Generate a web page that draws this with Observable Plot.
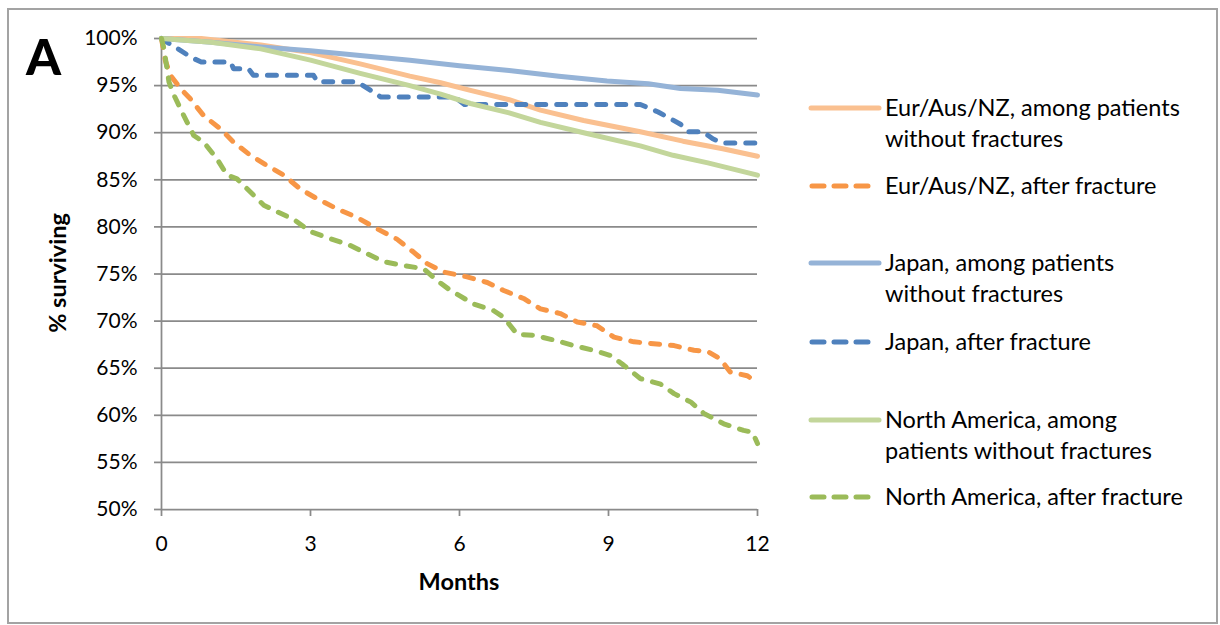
<!DOCTYPE html>
<html><head><meta charset="utf-8">
<script src="https://cdn.jsdelivr.net/npm/d3@7"></script>
<script src="https://cdn.jsdelivr.net/npm/@observablehq/plot@0.6"></script>
<style>
html,body{margin:0;padding:0;background:#fff;}
#wrap{position:relative;width:1220px;height:625px;overflow:hidden;font-family:Lato,sans-serif;}
#frame{position:absolute;left:7px;top:8px;width:1211px;height:616px;border:2px solid #a3a3a3;box-sizing:border-box;}
#chart{position:absolute;left:0;top:0;}
#overlay{position:absolute;left:0;top:0;}
</style></head><body>
<div id="wrap"><div id="frame"></div><div id="chart"></div><svg id="overlay" width="1220" height="625"></svg></div>
<script>
// ---- data (percent surviving by months) ----
const xTicks = [0, 3, 6, 9, 12];
const yTicks = [50, 55, 60, 65, 70, 75, 80, 85, 90, 95, 100];

const seriesNames = [
  "Eur/Aus/NZ, among patients without fractures",
  "Eur/Aus/NZ, after fracture",
  "Japan, among patients without fractures",
  "Japan, after fracture",
  "North America, among patients without fractures",
  "North America, after fracture"
];
const seriesColors = ["#FAC090", "#F79646", "#95B3D7", "#4F81BD", "#C3D69B", "#9BBB59"];
const seriesDashed = [false, true, false, true, false, true];
const legendLines = [
  ["Eur/Aus/NZ, among patients", "without fractures"],
  ["Eur/Aus/NZ, after fracture"],
  ["Japan, among patients", "without fractures"],
  ["Japan, after fracture"],
  ["North America, among", "patients without fractures"],
  ["North America, after fracture"]
];

const eurNoFxMonths = [0, 0.8, 2, 3, 4, 5, 5.62, 6.22, 7, 7.63, 8.5, 9.64, 10.5, 11.3, 12];
const eurNoFxPct    = [100, 100, 99.3, 98.5, 97.3, 96.0, 95.3, 94.5, 93.5, 92.4, 91.3, 90.1, 89.1, 88.3, 87.5];

const eurFxMonths = [0, 0.08, 0.18, 0.38, 0.58, 0.85, 1.19, 1.45, 1.79, 2.13, 2.46, 2.8, 3.13, 3.54, 3.94, 4.34, 4.74, 5.08, 5.35, 5.69, 6.15, 6.56, 6.89, 7.29, 7.63, 8.03, 8.37, 8.77, 9.11, 9.51, 10.32, 10.72, 10.99, 11.25, 11.45, 11.79, 12];
const eurFxPct    = [100, 97.6, 96.1, 94.7, 93.6, 91.8, 90.4, 89.0, 87.6, 86.5, 85.5, 84.0, 83.0, 81.9, 81.0, 79.8, 78.7, 77.3, 76.1, 75.2, 74.7, 74.1, 73.25, 72.4, 71.3, 70.8, 69.9, 69.5, 68.3, 67.8, 67.4, 66.9, 66.8, 66.0, 64.6, 64.2, 63.5];

const japanNoFxMonths = [0, 1, 2, 3, 4, 5, 6, 7, 8, 8.97, 9.8, 10.45, 11.2, 12];
const japanNoFxPct    = [100, 99.6, 99.1, 98.7, 98.2, 97.7, 97.1, 96.6, 96.0, 95.5, 95.2, 94.7, 94.5, 94.0];

const japanFxMonths = [0, 0.05, 0.3, 0.6, 0.8, 1.39, 1.45, 1.75, 1.85, 3.06, 3.14, 3.94, 4.3, 4.41, 5.9, 6.1, 9.64, 10.0, 10.45, 10.6, 10.9, 11.1, 11.3, 12];
const japanFxPct    = [100, 99.8, 99.0, 98.0, 97.5, 97.5, 96.8, 96.8, 96.1, 96.1, 95.4, 95.4, 94.2, 93.8, 93.8, 93.0, 93.0, 92.2, 90.9, 90.1, 90.1, 89.35, 88.9, 88.9];

const naNoFxMonths = [0, 1, 2, 3, 4, 5, 5.62, 6.22, 7, 7.63, 8.5, 9.64, 10.3, 11, 12];
const naNoFxPct    = [100, 99.6, 98.9, 97.7, 96.3, 95.0, 94.1, 93.1, 92.1, 91.1, 90.0, 88.6, 87.6, 86.8, 85.5];

const naFxMonths = [0, 0.05, 0.15, 0.25, 0.45, 0.65, 0.85, 1.12, 1.32, 1.52, 1.79, 2.06, 2.33, 2.66, 3.0, 3.37, 3.77, 4.08, 4.48, 4.88, 5.28, 5.55, 5.82, 6.0, 6.29, 6.69, 6.89, 7.16, 7.5, 7.97, 8.3, 8.7, 9.04, 9.31, 9.64, 10.05, 10.32, 10.66, 10.92, 11.32, 11.72, 11.9, 12];
const naFxPct    = [100, 98.9, 95.4, 94.0, 91.8, 89.7, 89.0, 87.2, 85.5, 85.1, 83.7, 82.3, 81.6, 80.8, 79.5, 78.8, 78.1, 77.3, 76.3, 75.9, 75.55, 74.3, 73.25, 72.7, 71.8, 71.1, 70.4, 68.6, 68.5, 67.9, 67.4, 66.9, 66.35, 65.3, 63.9, 63.3, 62.3, 61.4, 60.2, 59.1, 58.4, 58.2, 57.0];

const seriesMonths = [eurNoFxMonths, eurFxMonths, japanNoFxMonths, japanFxMonths, naNoFxMonths, naFxMonths];
const seriesPct = [eurNoFxPct, eurFxPct, japanNoFxPct, japanFxPct, naNoFxPct, naFxPct];

// ---- build tidy rows ----
const rows = [];
seriesNames.forEach((name, i) => {
  seriesMonths[i].forEach((m, j) => rows.push({series: name, month: m, pct: seriesPct[i][j]}));
});

const gridColor = "#8a8a8a";
const lineMarks = seriesNames.map((name, i) => Plot.line(rows.filter(d => d.series === name), {
  x: "month", y: "pct", stroke: "series",
  strokeWidth: 5,
  strokeDasharray: seriesDashed[i] ? "9,11" : null,
  strokeLinecap: "round", strokeLinejoin: "round"
}));

const chart = Plot.plot({
  width: 1220, height: 625,
  marginLeft: 161, marginRight: 463, marginTop: 38, marginBottom: 116,
  style: {fontFamily: "Lato, sans-serif", fontSize: "21px", background: "transparent", color: "#000", overflow: "visible"},
  x: {domain: [0, 12]},
  y: {domain: [50, 100]},
  color: {domain: seriesNames, range: seriesColors},
  marks: [
    Plot.gridY(yTicks, {stroke: gridColor, strokeOpacity: 1, strokeWidth: 1.75}),
    Plot.ruleX([0], {stroke: gridColor, strokeWidth: 1.75}),
    Plot.axisY(yTicks, {tickSize: 7, tickPadding: 17, tickFormat: d => d + "%", fontSize: 21, stroke: gridColor, strokeWidth: 1.75, fill: "#000", label: null}),
    Plot.axisX(xTicks, {tickSize: 7, tickPadding: 20, fontSize: 21, stroke: gridColor, strokeWidth: 1.75, fill: "#000", label: null}),
    ...lineMarks
  ]
});
document.getElementById("chart").appendChild(chart);

// ---- titles & legend ----
const ov = d3.select("#overlay").style("font-family", "Lato, sans-serif");
ov.append("text").attr("x", 26).attr("y", 75).attr("font-size", 50).attr("font-weight", 900).text("A");
ov.append("text").attr("transform", "translate(66,273) rotate(-90)").attr("text-anchor", "middle")
  .attr("font-size", 23.5).attr("font-weight", 700).text("% surviving");
ov.append("text").attr("x", 459).attr("y", 590).attr("text-anchor", "middle")
  .attr("font-size", 23.5).attr("font-weight", 700).text("Months");

const legendY = [108, 186, 263, 342, 420, 497];
legendLines.forEach((lines, i) => {
  const y = legendY[i];
  if (seriesDashed[i]) {
    ov.append("line").attr("x1", 812).attr("x2", 870).attr("y1", y).attr("y2", y)
      .attr("stroke", seriesColors[i]).attr("stroke-width", 5).attr("stroke-linecap", "round")
      .attr("stroke-dasharray", "12,10");
  } else {
    ov.append("line").attr("x1", 811).attr("x2", 879).attr("y1", y).attr("y2", y)
      .attr("stroke", seriesColors[i]).attr("stroke-width", 5).attr("stroke-linecap", "round");
  }
  lines.forEach((t, k) => {
    ov.append("text").attr("x", 885).attr("y", y + 8 + k * 31).attr("font-size", 23.5).attr("fill", "#000").text(t);
  });
});
</script>
</body></html>
